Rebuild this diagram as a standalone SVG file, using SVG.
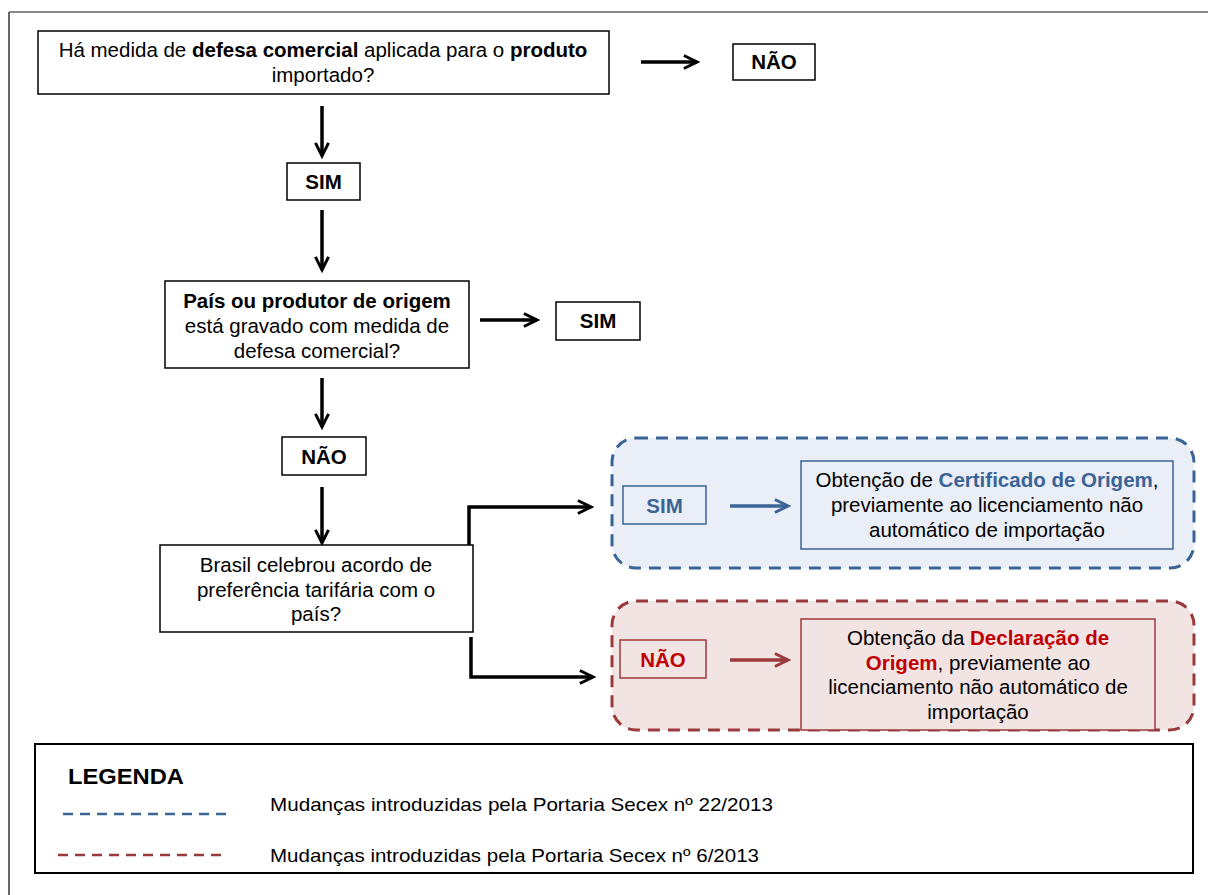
<svg xmlns="http://www.w3.org/2000/svg" width="1208" height="895" viewBox="0 0 1208 895">
<style>
text{font-family:"Liberation Sans",Arial,sans-serif;fill:#000;}
.t{font-size:20.5px;text-anchor:middle;}
.b{font-weight:bold;}
.box{fill:#fff;stroke:#000;stroke-width:1.5;}
.lbl{font-size:20.5px;font-weight:bold;text-anchor:middle;}
.arr{fill:none;stroke:#000;stroke-width:3.5;}
.blue{fill:#3b6496;}
.red{fill:#c00000;}
</style>
<defs>
<marker id="ahk" viewBox="0 0 12 12" refX="10" refY="6" markerWidth="5" markerHeight="5" orient="auto" markerUnits="strokeWidth">
<path d="M1,1.5 L10,6 L1,10.5" fill="none" stroke="#000" stroke-width="2"/>
</marker>
<marker id="ahb" viewBox="0 0 12 12" refX="10" refY="6" markerWidth="5" markerHeight="5" orient="auto" markerUnits="strokeWidth">
<path d="M1,1.5 L10,6 L1,10.5" fill="none" stroke="#3b6496" stroke-width="2"/>
</marker>
<marker id="ahr" viewBox="0 0 12 12" refX="10" refY="6" markerWidth="5" markerHeight="5" orient="auto" markerUnits="strokeWidth">
<path d="M1,1.5 L10,6 L1,10.5" fill="none" stroke="#9b3a3a" stroke-width="2"/>
</marker>
</defs>
<rect width="1208" height="895" fill="#fff"/>
<g id="frame">
<line x1="9" y1="12" x2="1208" y2="12" stroke="#8a8a8a" stroke-width="2"/>
<line x1="9" y1="12" x2="9" y2="895" stroke="#333" stroke-width="1.5"/>
</g>

<g id="groups">
<rect id="group-sim" x="612" y="438" width="582" height="130" rx="24" fill="#eaeef6" stroke="#3b6496" stroke-width="3" stroke-dasharray="12,8"/>
<rect id="group-nao" x="612" y="601" width="582" height="129" rx="24" fill="#f3e4e4" stroke="#9b3a3a" stroke-width="3" stroke-dasharray="12,8"/>
</g>

<g id="connectors">
<line class="arr" x1="641" y1="62" x2="697" y2="62" marker-end="url(#ahk)"/>
<line class="arr" x1="322" y1="106" x2="322" y2="156" marker-end="url(#ahk)"/>
<line class="arr" x1="322" y1="210" x2="322" y2="270" marker-end="url(#ahk)"/>
<line class="arr" x1="480" y1="320" x2="537" y2="320" marker-end="url(#ahk)"/>
<line class="arr" x1="322" y1="378" x2="322" y2="427" marker-end="url(#ahk)"/>
<line class="arr" x1="322" y1="487" x2="322" y2="543" marker-end="url(#ahk)"/>
<polyline class="arr" points="469,545 469,507 591,507" marker-end="url(#ahk)"/>
<polyline class="arr" points="471,637 471,677 593,677" marker-end="url(#ahk)"/>
<line x1="730" y1="506" x2="788" y2="506" fill="none" stroke="#3b6496" stroke-width="3.5" marker-end="url(#ahb)"/>
<line x1="730" y1="660" x2="788" y2="660" fill="none" stroke="#9b3a3a" stroke-width="3.5" marker-end="url(#ahr)"/>
</g>

<g id="q1">
<rect class="box" x="38" y="31" width="571" height="63"/>
<text class="t" x="323" y="57">Há medida de <tspan class="b">defesa comercial</tspan> aplicada para o <tspan class="b">produto</tspan></text>
<text class="t" x="323" y="82">importado?</text>
</g>
<g id="nao1">
<rect class="box" x="733" y="44" width="82" height="36"/>
<text class="lbl" x="774" y="69">NÃO</text>
</g>
<g id="sim1">
<rect class="box" x="287" y="163" width="73" height="37"/>
<text class="lbl" x="323.5" y="189">SIM</text>
</g>
<g id="q2">
<rect class="box" x="165" y="281" width="304" height="87"/>
<text class="t b" x="317" y="308">País ou produtor de origem</text>
<text class="t" x="317" y="333">está gravado com medida de</text>
<text class="t" x="317" y="358">defesa comercial?</text>
</g>
<g id="sim2">
<rect class="box" x="556" y="302" width="84" height="38"/>
<text class="lbl" x="598" y="328">SIM</text>
</g>
<g id="nao2">
<rect class="box" x="282" y="437" width="84" height="38"/>
<text class="lbl" x="324" y="464">NÃO</text>
</g>
<g id="q3">
<rect class="box" x="160" y="545" width="313" height="87"/>
<text class="t" x="316" y="572">Brasil celebrou acordo de</text>
<text class="t" x="316" y="597">preferência tarifária com o</text>
<text class="t" x="316" y="621">país?</text>
</g>
<g id="sim3">
<rect x="623" y="486" width="83" height="38" fill="none" stroke="#3b6496" stroke-width="1.5"/>
<text class="lbl" x="664.5" y="513" style="fill:#3b6496">SIM</text>
</g>
<g id="cert">
<rect x="801" y="461" width="372" height="88" fill="#eaeef6" stroke="#3b6496" stroke-width="1.5"/>
<text class="t" x="987" y="487">Obtenção de <tspan class="b blue">Certificado de Origem</tspan>,</text>
<text class="t" x="987" y="512">previamente ao licenciamento não</text>
<text class="t" x="987" y="537">automático de importação</text>
</g>
<g id="nao3">
<rect x="620" y="640" width="86" height="38" fill="none" stroke="#9b3a3a" stroke-width="1.5"/>
<text class="lbl" x="663" y="667" style="fill:#c00000">NÃO</text>
</g>
<g id="decl">
<rect x="801" y="619" width="354" height="111" fill="#f3e4e4" stroke="#9b3a3a" stroke-width="1.5"/>
<text class="t" x="978" y="645">Obtenção da <tspan class="b red">Declaração de</tspan></text>
<text class="t" x="978" y="670"><tspan class="b red">Origem</tspan>, previamente ao</text>
<text class="t" x="978" y="694">licenciamento não automático de</text>
<text class="t" x="978" y="719">importação</text>
</g>

<g id="legend">
<rect x="35" y="744" width="1158" height="129" fill="#fff" stroke="#000" stroke-width="2"/>
<text x="68" y="784" style="font-size:22px;font-weight:bold" textLength="116" lengthAdjust="spacingAndGlyphs">LEGENDA</text>
<line x1="63" y1="814" x2="230" y2="814" stroke="#3b6496" stroke-width="2.5" stroke-dasharray="10,7"/>
<text x="270" y="811" style="font-size:19px" textLength="503" lengthAdjust="spacingAndGlyphs">Mudanças introduzidas pela Portaria Secex nº 22/2013</text>
<line x1="58" y1="855" x2="225" y2="855" stroke="#9b3a3a" stroke-width="2.5" stroke-dasharray="10,7"/>
<text x="270" y="862" style="font-size:19px" textLength="489" lengthAdjust="spacingAndGlyphs">Mudanças introduzidas pela Portaria Secex nº 6/2013</text>
</g>
</svg>
